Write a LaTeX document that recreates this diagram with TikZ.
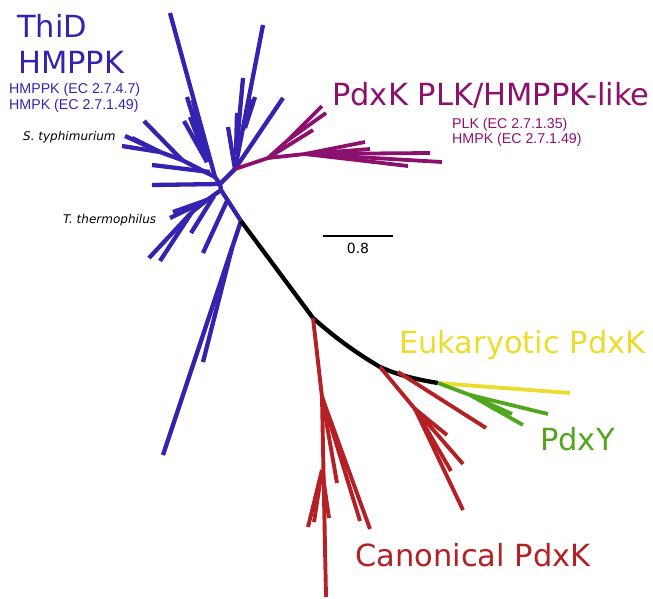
\documentclass[tikz,border=0pt]{standalone}
\usepackage{fontspec}
\setmainfont{DejaVu Sans}
\newfontfamily\arialf{Liberation Sans}
\definecolor{tblue}{RGB}{52,34,176}
\definecolor{tmag}{RGB}{140,16,110}
\definecolor{tred}{RGB}{180,32,36}
\definecolor{tgreen}{RGB}{82,166,30}
\definecolor{tyellow}{RGB}{236,220,44}
\tikzset{
  br/.style={line width=4.3pt, line join=round},
  bb/.style={br, tblue},
  bm/.style={br, tmag, line width=3.8pt},
  bk/.style={br, black},
  bred/.style={br, tred, line width=3.9pt},
  bg/.style={br, tgreen, line width=3.8pt},
  by/.style={br, tyellow, line width=3.8pt},
  big/.style={inner sep=0pt, anchor=base west, font=\fontsize{30.5}{36}\selectfont},
  small/.style={inner sep=0pt, anchor=base west, font=\arialf\fontsize{14.2}{16}\selectfont},
  sp/.style={inner sep=0pt, anchor=base west, font=\itshape\fontsize{12}{14}\selectfont},
}
\begin{document}
\begin{tikzpicture}[x=1pt,y=-1pt]
\useasboundingbox (0,0) rectangle (653,598);
% internal nodes
\coordinate (hub) at (220,184);
\coordinate (hubL) at (221,190);
\coordinate (mroot) at (235,169);
\coordinate (kroot) at (241,221);
\coordinate (kmid) at (313,318);
\coordinate (kr2) at (380,367);
\coordinate (ke) at (438,383);
% ---- blue: upper-left group
\coordinate (ul1) at (207,162);
\coordinate (ul2) at (182,160);
\coordinate (ul3) at (160,152);
\draw[bb] (hub) -- (215,177) -- (170,13) coordinate (t1);
\draw[bb] (ul1) -- (187,97) coordinate (t2);
\draw[bb] (ul1) -- (193,100) coordinate (t3);
\draw[bb] (ul1) -- (184,121) coordinate (t4);
\draw[bb] (ul1) -- (190,117) coordinate (t5);
\draw[bb] (215,177) -- (ul2);
\draw[bb] (ul2) -- (144,121) coordinate (t6);
\draw[bb] (ul2) -- (ul3);
\draw[bb] (ul3) -- (125,136) coordinate (t7);
\draw[bb] (ul3) -- (122,146) coordinate (t8);
\draw[bb] (ul3) -- (132,138) coordinate (t9);
\draw[bb] (210,172) -- (152,165) coordinate (t10);
\draw[bb] (hub) -- (152,185) coordinate (t11);
% ---- blue: upper-right group
\coordinate (ur1) at (236,155);
\draw[bb] (hub) -- (mroot);
\draw[bb] (mroot) -- (263,25) coordinate (t12);
\draw[bb] (ur1) -- (243,78) coordinate (t13);
\draw[bb] (245,128) -- (255,97) coordinate (t14);
\draw[bb] (243,130) -- (250,99) coordinate (t15);
\draw[bb] (ur1) -- (237,113) coordinate (t16);
\draw[bb] (mroot) -- (228,127) coordinate (t17);
\draw[bb] (mroot) -- (283,98) coordinate (t18);
% ---- blue: lower-left group (T. thermophilus)
\coordinate (ll1) at (207,200);
\coordinate (ll2) at (192,212);
\draw[bb] (hub) -- (hubL) -- (kroot);
\draw[bb] (hubL) -- (ll1);
\draw[bb] (ll1) -- (170,218) coordinate (t19);
\draw[bb] (ll1) -- (173,212) coordinate (t20);
\draw[bb] (ll1) -- (ll2);
\draw[bb] (ll2) -- (149,258) coordinate (t21);
\draw[bb] (ll2) -- (160,261) coordinate (t22);
\draw[bb] (214,196) -- (191,233) coordinate (t23);
\draw[bb] (227,201) -- (203,253) coordinate (t24);
% ---- blue: long branches
\draw[bb] (kroot) -- (163,455) coordinate (t25);
\draw[bb] (232,248) -- (203,362) coordinate (t26);
% ---- magenta
\coordinate (m1) at (268,158);
\coordinate (m2) at (288,140);
\coordinate (m3) at (305,154);
\draw[bm] (mroot) -- (m1);
\draw[bm] (m1) -- (m2);
\draw[bm] (m2) -- (322,106) coordinate (m4);
\draw[bm] (m2) -- (326,113) coordinate (m5);
\draw[bm] (m1) -- (313,130) coordinate (m6);
\draw[bm] (m1) -- (m3);
\draw[bm] (m3) -- (365,142) coordinate (m7);
\draw[bm] (m3) -- (370,149) coordinate (m8);
\draw[bm] (m3) -- (430,153) coordinate (m9);
\draw[bm] (m3) -- (442,162) coordinate (m10);
\draw[bm] (m3) -- (408,166) coordinate (m11);
% ---- black backbone
\draw[bk] (kroot) -- (kmid) .. controls (340,342) and (360,355) .. (kr2) .. controls (400,376) and (420,380) .. (ke);
% ---- red from kmid
\coordinate (r1) at (322,397);
\coordinate (r2) at (322,470);
\draw[bred] (kmid) -- (r1);
\draw[bred] (r1) -- (326,597) coordinate (r3);
\draw[bred] (r1) -- (337,483) coordinate (r4);
\draw[bred] (r1) -- (360,521) coordinate (r5);
\draw[bred] (r1) -- (370,529) coordinate (r6);
\draw[bred] (r2) -- (308,527) coordinate (r7);
\draw[bred] (r2) -- (314,522) coordinate (r8);
\draw[bred] (r2) -- (329,518) coordinate (r9);
% ---- red from kr2
\coordinate (r10) at (415,409);
\draw[bred] (kr2) -- (r10);
\draw[bred] (r10) -- (447,435) coordinate (r11);
\draw[bred] (r10) -- (463,464) coordinate (r12);
\draw[bred] (r10) -- (451,471) coordinate (r13);
\draw[bred] (r10) -- (463,510) coordinate (r14);
\draw[bred] (398,372) -- (486,428) coordinate (r15);
% ---- yellow / green
\draw[by] (ke) -- (570,393) coordinate (y1);
\coordinate (g0) at (470,395);
\draw[bg] (ke) -- (g0);
\draw[bg] (g0) -- (548,414) coordinate (g1);
\draw[bg] (g0) -- (523,425) coordinate (g2);
\draw[bg] (g0) -- (512,414) coordinate (g3);
% ---- scale bar
\draw[line width=2pt] (323,236) coordinate (sb1) -- (393,236) coordinate (sb2);
\node[inner sep=0pt, anchor=base, font=\fontsize{14}{16}\selectfont] (sbl) at (358,253) {0.8};
% ---- labels
\node[big, text=tblue] (thid) at (17,37) {ThiD};
\node[big, text=tblue] (hmppk) at (18,73) {HMPPK};
\node[small, text=tblue] (ec1) at (9,93) {HMPPK (EC 2.7.4.7)};
\node[small, text=tblue] (ec2) at (9,109) {HMPK (EC 2.7.1.49)};
\node[sp] (sty) at (23,140) {S. typhimurium};
\node[sp] (tth) at (63,223) {T. thermophilus};
\node[big, text=tmag] (plk) at (332,105) {PdxK PLK/HMPPK-like};
\node[small, text=tmag] (ec3) at (452,128) {PLK (EC 2.7.1.35)};
\node[small, text=tmag] (ec4) at (452,143) {HMPK (EC 2.7.1.49)};
\node[big, text=tyellow] (euk) at (399,353) {Eukaryotic PdxK};
\node[big, text=tgreen] (pdxy) at (540,450) {PdxY};
\node[big, text=tred] (can) at (355,566) {Canonical PdxK};
\end{tikzpicture}
\end{document}
